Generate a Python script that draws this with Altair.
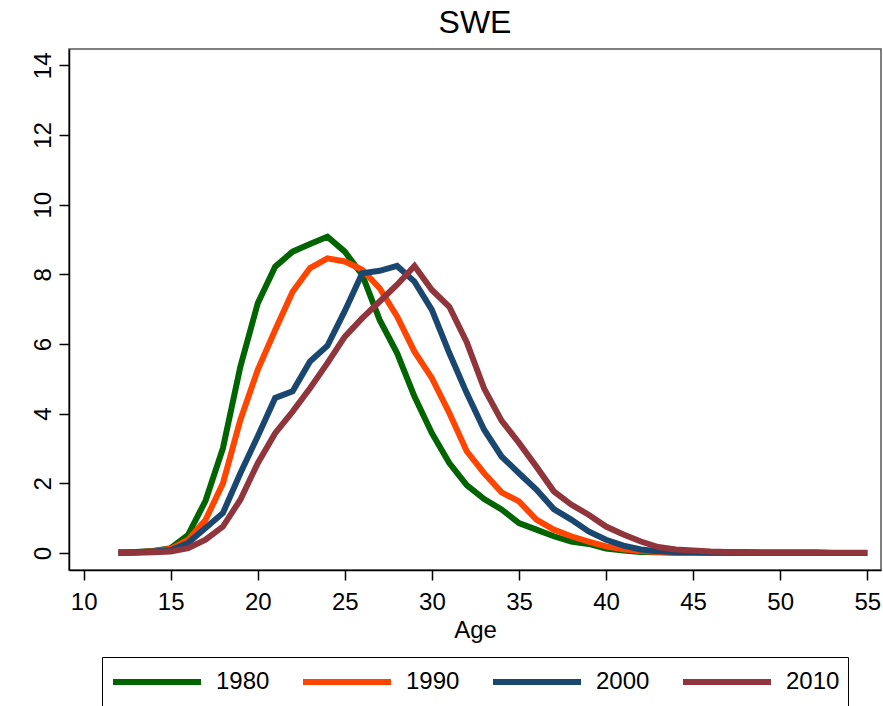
import altair as alt
import pandas as pd

# Age-specific fertility rates by age, Sweden, four census years
ages = list(range(12, 56))
years = ["1980", "1990", "2000", "2010"]

rate_1980 = [0.02, 0.03, 0.06, 0.14, 0.52, 1.50, 3.01, 5.35, 7.17, 8.22,
             8.65, 8.87, 9.08, 8.65, 7.98, 6.69, 5.74, 4.49, 3.44, 2.58,
             1.95, 1.55, 1.25, 0.86, 0.67, 0.48, 0.33, 0.26, 0.13, 0.07,
             0.03, 0.02, 0.01, 0.01, 0.01, 0.00, 0.00, 0.00, 0.00, 0.00,
             0.00, 0.00, 0.00, 0.00]
rate_1990 = [0.01, 0.02, 0.05, 0.12, 0.38, 0.95, 2.00, 3.82, 5.26, 6.40,
             7.50, 8.18, 8.46, 8.37, 8.13, 7.60, 6.79, 5.78, 5.02, 4.02,
             2.92, 2.29, 1.74, 1.48, 0.96, 0.67, 0.48, 0.33, 0.19, 0.11,
             0.06, 0.03, 0.02, 0.01, 0.01, 0.01, 0.00, 0.00, 0.00, 0.00,
             0.00, 0.00, 0.00, 0.00]
rate_2000 = [0.01, 0.02, 0.04, 0.08, 0.29, 0.72, 1.15, 2.29, 3.35, 4.45,
             4.64, 5.50, 5.95, 6.95, 8.03, 8.10, 8.24, 7.79, 6.98, 5.74,
             4.59, 3.54, 2.77, 2.29, 1.82, 1.26, 0.96, 0.62, 0.38, 0.21,
             0.10, 0.05, 0.03, 0.02, 0.01, 0.01, 0.01, 0.01, 0.01, 0.01,
             0.01, 0.00, 0.00, 0.00]
rate_2010 = [0.00, 0.01, 0.02, 0.04, 0.14, 0.38, 0.76, 1.53, 2.58, 3.44,
             4.06, 4.73, 5.45, 6.21, 6.74, 7.22, 7.70, 8.24, 7.55, 7.07,
             6.05, 4.72, 3.80, 3.16, 2.48, 1.77, 1.39, 1.10, 0.76, 0.53,
             0.33, 0.17, 0.10, 0.07, 0.04, 0.03, 0.03, 0.02, 0.02, 0.02,
             0.02, 0.01, 0.01, 0.01]

x_ticks = [10, 15, 20, 25, 30, 35, 40, 45, 50, 55]
y_ticks = [0, 2, 4, 6, 8, 10, 12, 14]
colors = ["#006400", "#ff4500", "#1a476f", "#90353b"]

rows = []
for year, vals in zip(years, [rate_1980, rate_1990, rate_2000, rate_2010]):
    for a, v in zip(ages, vals):
        rows.append({"Age": a, "rate": v, "year": year})
df = pd.DataFrame(rows)

FONT = "Liberation Sans"

chart = (
    alt.Chart(df)
    .mark_line(strokeWidth=6)
    .encode(
        x=alt.X(
            "Age:Q",
            scale=alt.Scale(domain=[9.16, 55.79], nice=False, zero=False),
            axis=alt.Axis(
                values=x_ticks, title="Age", labelFontSize=24, titleFontSize=24,
                labelPadding=10, titlePadding=4, tickSize=10,
            ),
        ),
        y=alt.Y(
            "rate:Q",
            scale=alt.Scale(domain=[-0.488, 14.468], nice=False, zero=False),
            axis=alt.Axis(
                values=y_ticks, title=None, labelFontSize=24, labelAngle=270,
                labelAlign="center", labelBaseline="bottom", labelPadding=4,
                tickSize=10,
            ),
        ),
        color=alt.Color(
            "year:N",
            title=None,
            scale=alt.Scale(domain=years, range=colors),
            legend=alt.Legend(
                orient="none", legendX=33, legendY=608, direction="horizontal",
                columns=4, symbolType="stroke", symbolSize=7744,
                symbolStrokeWidth=6, labelFontSize=24, labelOffset=12,
                columnPadding=30, padding=8, strokeColor="black",
                labelColor="black", clipHeight=34,
            ),
        ),
    )
    .properties(
        width=812,
        height=521,
        title=alt.TitleParams(
            "SWE", fontSize=32, font=FONT, fontWeight="normal", anchor="middle",
            baseline="alphabetic", offset=15, dy=31, color="black",
        ),
        autosize=alt.AutoSizeParams(type="none"),
        padding={"left": 69, "top": 49, "right": 2, "bottom": 136},
    )
    .configure(background="white")
    .configure_view(stroke="#555555", strokeWidth=1.5)
    .configure_axis(
        grid=False, domainColor="black", domainWidth=1.5, tickColor="black",
        tickWidth=1.5, labelColor="black", titleColor="black", labelFont=FONT,
        titleFont=FONT, titleFontWeight="normal",
    )
    .configure_legend(labelFont=FONT)
)

chart.save("out.html", embed_options={"renderer": "svg", "actions": False})
